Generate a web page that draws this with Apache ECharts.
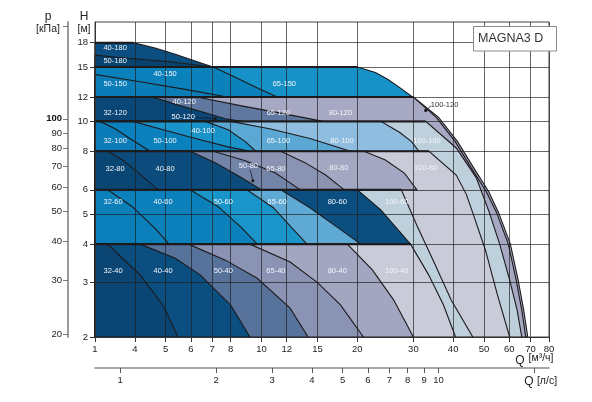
<!DOCTYPE html>
<html><head><meta charset="utf-8">
<script src="https://cdn.jsdelivr.net/npm/echarts@6/dist/echarts.min.js"></script>
<style>html,body{margin:0;padding:0;background:#fff}#c{width:592px;height:402px}</style>
</head><body><div id="c"></div>
<script>
// ---------- axes ----------
const qRange = [3, 80];                 // m3/h (log)
const hRange = [2, 21];                 // m (log)
const kPaPerM = 9.81;
const m3hPerLps = 3.6;
const qTicks = [3,4,5,6,7,8,10,12,15,20,30,40,50,60,70,80];
const qTickLabels = ['1','4','5','6','7','8','10','12','15','20','30','40','50','60','70','80'];
const hTicks = [2,3,4,5,6,8,10,12,15,18];
const pTicks = [20,30,40,50,60,70,80,90,100,200];
const pTickLabels = ['20','30','40','50','60','70','80','90','100',''];
const lpsTicks = [1,2,3,4,5,6,7,8,9,10,20];
const lpsTickLabels = ['1','2','3','4','5','6','7','8','9','10',''];

// ---------- pump curves [Q m3/h, H m] ----------
const o120   = [[30,12],[36,10.3],[41.3,8.6],[46.4,7.07],[51.8,5.9],[55.6,5.05],[60.5,4],[64,3.06],[66.6,2.45],[68.6,2]];
const o120in = [[30,12],[35.4,10.3],[40.6,8.6],[45.6,7.07],[50.9,5.9],[54.8,5.05],[59.6,4],[63.1,3.06],[65.7,2.45],[67.6,2]];
const o100   = [[32.8,10],[40.9,8.2],[47.3,6.56],[52,5.05],[56,4],[60.2,3.06],[63.5,2.45],[65.7,2]];
const o80    = [[33.6,8],[40.9,6.7],[44,5.8],[46.1,5.05],[50.5,3.83],[55.1,2.74],[60.2,2]];
const c100_60 = [[27.5,6],[30.7,4.62],[34.8,3.5],[39.4,2.64],[46.1,2]];
const e180   = [[3.95,18],[4.63,17.3],[5.36,16.5],[6.19,15.7],[7.06,15]];
const m180   = [[3,16.4],[3.87,16.0],[5.17,15.6],[7.06,15]];
const e150   = [[20,15],[22.8,14.4],[24.9,13.7],[27.4,12.8],[29.8,12]];
const c40_150 = [[7.06,15],[8.27,13.9],[9.6,12.9],[11.2,12]];
const c50_150 = [[3,14.2],[4.16,13.45],[5.76,12.7],[7.8,12]];
const c40_120 = [[6.28,12],[8.58,11.25],[11.7,10.6],[15.6,10]];
const c50_120 = [[4.54,12],[5.55,11.25],[6.66,10.67],[7.7,10.2],[8.7,10]];
const c80_100 = [[23.7,10],[27.2,9.2],[29.6,8.6],[31.2,8]];
const c65_100 = [[8,10],[10.7,9.45],[14.2,8.8],[19,8]];
const c40_100 = [[6.66,10],[7.86,9.4],[8.9,8.6],[9.6,8]];
const c50_100 = [[3.95,10],[5.17,9.25],[6.42,8.72],[7.86,8.27],[9.2,8]];
const c32_100 = [[3.11,10],[3.47,9.47],[3.87,8.79],[4.47,8]];
const c80_80 = [[21,8],[24.5,7.5],[28.1,6.8],[30.8,6]];
const c65_80 = [[11.5,8],[13.7,7.35],[15.9,6.7],[18.2,6]];
const c50_80 = [[7.06,8],[8.9,7.45],[11.06,6.8],[13.25,6]];
const c40_80 = [[5.97,8],[7.16,7.35],[8.58,6.6],[10,6]];
const c32_80 = [[3.29,8],[3.66,7.5],[4.08,6.85],[4.74,6]];
const c80_60 = [[20,6],[23.7,5.17],[26.6,4.5],[29.4,4]];
const c65_60 = [[11.5,6],[14.2,5.25],[17.5,4.5],[20.5,4]];
const c50_60 = [[9,6],[10.9,5.25],[12.5,4.5],[13.9,4]];
const c40_60 = [[5.97,6],[7.3,5.3],[8.7,4.5],[9.7,4]];
const c32_60 = [[3.29,6],[3.92,5.3],[4.63,4.5],[5.13,4]];
const c100_40 = [[29.4,4],[33.5,3.18],[37.3,2.54],[40.7,2]];
const c80_40 = [[18.6,4],[22.3,3.3],[26,2.64],[30,2]];
const c65_40 = [[9.2,4],[12.3,3.5],[15,3.0],[17.7,2.54],[20.9,2]];
const c50_40 = [[5.9,4],[7.7,3.55],[9.7,3.1],[12.3,2.48],[14,2]];
const c40_40 = [[4.16,4],[5.36,3.6],[6.42,3.18],[8,2.54],[9.2,2]];
const c32_40 = [[3.29,4],[3.66,3.6],[4.16,3.18],[4.9,2.54],[5.47,2]];

// band limit lines (H) and where they end (Q)
const bandTops = [18,15,12,10,8,6,4];
const bandEnds = [3.95,20,30,32.8,33.6,27.5,29.4];

// region labels [text, Q, H]
const regionLabels = [
 ['40-180',3.47,17.3],['50-180',3.47,15.7],
 ['40-150',4.98,14.2],['50-150',3.47,13.2],['65-150',11.8,13.2],
 ['32-120',3.47,10.67],['40-120',5.72,11.6],['50-120',5.68,10.3],['65-120',11.3,10.67],['80-120',17.7,10.67],
 ['32-100',3.47,8.66],['50-100',4.98,8.66],['40-100',6.56,9.33],['65-100',11.3,8.66],['80-100',17.9,8.66],['100-100',33.1,8.66],
 ['32-80',3.47,7.02],['40-80',4.98,7.02],['50-80',9.1,7.18],['65-80',11.1,7.02],['80-80',17.5,7.07],['100-80',32.8,7.07],
 ['32-60',3.42,5.49],['40-60',4.91,5.49],['50-60',7.59,5.49],['65-60',11.2,5.49],['80-60',17.3,5.49],['100-60',26.6,5.49],
 ['32-40',3.42,3.27],['40-40',4.91,3.27],['50-40',7.59,3.27],['65-40',11.1,3.27],['80-40',17.3,3.27],['100-40',26.6,3.27]
];
const outsideLabels = [['100-120',37.6,11.3]];
const leaders = [
 [[6.23,10.3],[7.16,10.2]],
 [[9.22,6.97],[9.4,6.42]],
 [[34.1,11.24],[32.8,10.85]]
];

// ---------- drawing config ----------
const layers = [
  [o120, 12, 2, '#a7a9c4'],
  [o120in, 12, 2, '#a7a9c4'],
  [o100, 10, 2, '#bdd0dc'],
  [o80, 8, 2, '#c9cbd9'],
  [c100_60, 6, 2, '#bed0dc'],
  [e180, 18, 15, '#0d4e80'],
  [m180, 18, 15, '#08426f'],
  [e150, 15, 12, '#1792c8'],
  [c40_150, 15, 12, '#0b81bc'],
  [c50_150, 15, 12, '#0a7cb8'],
  [c40_120, 12, 10, '#60789f'],
  [c50_120, 12, 10, '#0a4676'],
  [c80_100, 10, 8, '#8fbde0'],
  [c65_100, 10, 8, '#5ba8d5'],
  [c40_100, 10, 8, '#1a93c9'],
  [c50_100, 10, 8, '#0a80bd'],
  [c32_100, 10, 8, '#0b7cb8'],
  [c80_80, 8, 6, '#a4a7c1'],
  [c65_80, 8, 6, '#8b93b3'],
  [c50_80, 8, 6, '#7384a9'],
  [c40_80, 8, 6, '#0b4c7c'],
  [c32_80, 8, 6, '#0a4674'],
  [c80_60, 6, 4, '#0a4f80'],
  [c65_60, 6, 4, '#5faad5'],
  [c50_60, 6, 4, '#1a95c9'],
  [c40_60, 6, 4, '#0b80bb'],
  [c32_60, 6, 4, '#0b7fba'],
  [c100_40, 4, 2, '#c9cbd9'],
  [c80_40, 4, 2, '#a3a6c0'],
  [c65_40, 4, 2, '#8a93b3'],
  [c50_40, 4, 2, '#57729b'],
  [c40_40, 4, 2, '#0b4f80'],
  [c32_40, 4, 2, '#0a4573']
];

const lg = Math.log10;
const FONT = 'Liberation Sans, Arial, sans-serif';
const DARK = '#1d1a1c';
const GRID = 'rgba(30,30,30,0.68)';

function regionPoints(curve, top, bottom) {
  const pts = [[qRange[0], bottom]];
  if (curve[0][0] > qRange[0] + 1e-6) pts.push([qRange[0], top]);
  curve.forEach(p => pts.push(p));
  const last = curve[curve.length - 1];
  if (last[1] > bottom + 1e-6) pts.push([last[0], bottom]);
  return pts;
}
function lookup(vals, labels, v) {
  for (let i = 0; i < vals.length; i++) if (Math.abs(lg(vals[i]) - v) < 1e-6) return labels[i];
  return '';
}

const chart = echarts.init(document.getElementById('c'));
chart.setOption({
  animation: false,
  grid: { left: 95, right: 43, top: 22, bottom: 65, show: true, borderColor: '#444', borderWidth: 1, backgroundColor: 'transparent' },
  xAxis: [
    { type: 'value', position: 'bottom', min: lg(qRange[0]), max: lg(qRange[1]), z: 3,
      axisLine: { show: true, onZero: false, lineStyle: { color: '#333', width: 1 } },
      axisTick: { show: true, length: 5, customValues: qTicks.map(lg), lineStyle: { color: '#333' } },
      axisLabel: { customValues: qTicks.map(lg), margin: 7, fontSize: 9.5, color: '#222', fontFamily: FONT,
        formatter: v => lookup(qTicks, qTickLabels, v) },
      splitLine: { show: true, lineStyle: { color: GRID, width: 1 } } },
    { type: 'value', position: 'bottom', offset: 31, min: lg(qRange[0] / m3hPerLps), max: lg(qRange[1] / m3hPerLps), z: 3,
      axisLine: { show: true, onZero: false, lineStyle: { color: '#8c8c8c', width: 1.5 } },
      axisTick: { show: true, length: 5, customValues: lpsTicks.map(lg), lineStyle: { color: '#555' } },
      axisLabel: { customValues: lpsTicks.map(lg), margin: 7, fontSize: 9.5, color: '#222', fontFamily: FONT,
        formatter: v => lookup(lpsTicks, lpsTickLabels, v) },
      splitLine: { show: false } }
  ],
  yAxis: [
    { type: 'value', position: 'left', min: lg(hRange[0]), max: lg(hRange[1]), z: 3,
      axisLine: { show: true, onZero: false, lineStyle: { color: '#333', width: 1 } },
      axisTick: { show: true, length: 5, customValues: hTicks.map(lg), lineStyle: { color: '#333' } },
      axisLabel: { customValues: hTicks.map(lg), margin: 7, fontSize: 9.5, color: '#222', fontFamily: FONT,
        formatter: v => lookup(hTicks, hTicks.map(String), v) },
      splitLine: { show: true, lineStyle: { color: GRID, width: 1 } } },
    { type: 'value', position: 'left', offset: 27, min: lg(hRange[0] * kPaPerM), max: lg(hRange[1] * kPaPerM), z: 3,
      axisLine: { show: true, onZero: false, lineStyle: { color: '#9a9a9a', width: 2 } },
      axisTick: { show: true, length: 5, customValues: pTicks.map(lg), lineStyle: { color: '#777' } },
      axisLabel: { customValues: pTicks.map(lg), margin: 6, fontSize: 9.5, color: '#222', fontFamily: FONT,
        formatter: v => { const t = lookup(pTicks, pTickLabels, v); return t === '100' ? '{b|100}' : t; },
        rich: { b: { fontWeight: 'bold', fontSize: 9.5, color: '#111', fontFamily: FONT } } },
      splitLine: { show: false } }
  ],
  series: [
    { type: 'custom', name: 'regions', xAxisIndex: 0, yAxisIndex: 0, z: 2,
      data: layers.map(L => [lg(L[0][0][0]), lg(L[0][0][1])]),
      renderItem: (params, api) => {
        const L = layers[params.dataIndex];
        const pts = regionPoints(L[0], L[1], L[2]).map(p => api.coord([lg(p[0]), lg(p[1])]));
        return { type: 'polygon', shape: { points: pts }, style: { fill: L[3], stroke: DARK, lineWidth: 1.1 } };
      } },
    { type: 'custom', name: 'bandLines', xAxisIndex: 0, yAxisIndex: 0, z: 4,
      data: bandTops.map((h, i) => [lg(bandEnds[i]), lg(h)]),
      renderItem: (params, api) => {
        const h = bandTops[params.dataIndex], q = bandEnds[params.dataIndex];
        const a = api.coord([lg(qRange[0]), lg(h)]), b = api.coord([lg(q), lg(h)]);
        return { type: 'line', shape: { x1: a[0], y1: a[1], x2: b[0], y2: b[1] }, style: { stroke: DARK, lineWidth: 2 } };
      } },
    { type: 'custom', name: 'leaders', xAxisIndex: 0, yAxisIndex: 0, z: 5,
      data: leaders.map(l => [lg(l[1][0]), lg(l[1][1])]),
      renderItem: (params, api) => {
        const l = leaders[params.dataIndex];
        const a = api.coord([lg(l[0][0]), lg(l[0][1])]), b = api.coord([lg(l[1][0]), lg(l[1][1])]);
        return { type: 'group', children: [
          { type: 'line', shape: { x1: a[0], y1: a[1], x2: b[0], y2: b[1] }, style: { stroke: DARK, lineWidth: 0.8 } },
          { type: 'circle', shape: { cx: b[0], cy: b[1], r: 1.6 }, style: { fill: DARK } }
        ] };
      } },
    { type: 'custom', name: 'labels', xAxisIndex: 0, yAxisIndex: 0, z: 6,
      data: regionLabels.map(l => [lg(l[1]), lg(l[2])]),
      renderItem: (params, api) => {
        const l = regionLabels[params.dataIndex];
        const c = api.coord([lg(l[1]), lg(l[2])]);
        return { type: 'text', x: c[0], y: c[1], style: { text: l[0], fill: '#f2f5f9', fontSize: 7.5, fontFamily: FONT, align: 'center', verticalAlign: 'middle' } };
      } },
    { type: 'custom', name: 'outsideLabels', xAxisIndex: 0, yAxisIndex: 0, z: 6,
      data: outsideLabels.map(l => [lg(l[1]), lg(l[2])]),
      renderItem: (params, api) => {
        const l = outsideLabels[params.dataIndex];
        const c = api.coord([lg(l[1]), lg(l[2])]);
        return { type: 'text', x: c[0], y: c[1], style: { text: l[0], fill: '#333', fontSize: 7.5, fontFamily: FONT, align: 'center', verticalAlign: 'middle' } };
      } }
  ],
  graphic: [
    { type: 'rect', z: 100, shape: { x: 473.5, y: 26.5, width: 83, height: 24.5 }, style: { fill: '#fff', stroke: '#8a8a8a', lineWidth: 1 } },
    { type: 'text', z: 101, x: 478, y: 39, style: { text: 'MAGNA3 D', fill: '#333', fontSize: 12.5, fontFamily: FONT, align: 'left', verticalAlign: 'middle' } },
    { type: 'text', z: 101, x: 84, y: 17, style: { text: 'H', fill: '#222', fontSize: 12, fontFamily: FONT, align: 'center', verticalAlign: 'middle' } },
    { type: 'text', z: 101, x: 84, y: 29, style: { text: '[м]', fill: '#222', fontSize: 10.5, fontFamily: FONT, align: 'center', verticalAlign: 'middle' } },
    { type: 'text', z: 101, x: 48, y: 17, style: { text: 'p', fill: '#222', fontSize: 12, fontFamily: FONT, align: 'center', verticalAlign: 'middle' } },
    { type: 'text', z: 101, x: 48, y: 29, style: { text: '[кПа]', fill: '#222', fontSize: 10.5, fontFamily: FONT, align: 'center', verticalAlign: 'middle' } },
    { type: 'text', z: 101, x: 520, y: 361, style: { text: 'Q', fill: '#222', fontSize: 12, fontFamily: FONT, align: 'center', verticalAlign: 'middle' } },
    { type: 'text', z: 101, x: 541, y: 358, style: { text: '[м³/ч]', fill: '#222', fontSize: 10.5, fontFamily: FONT, align: 'center', verticalAlign: 'middle' } },
    { type: 'text', z: 101, x: 529, y: 382, style: { text: 'Q', fill: '#222', fontSize: 12, fontFamily: FONT, align: 'center', verticalAlign: 'middle' } },
    { type: 'text', z: 101, x: 547, y: 381, style: { text: '[л/с]', fill: '#222', fontSize: 10.5, fontFamily: FONT, align: 'center', verticalAlign: 'middle' } }
  ]
});
</script></body></html>
